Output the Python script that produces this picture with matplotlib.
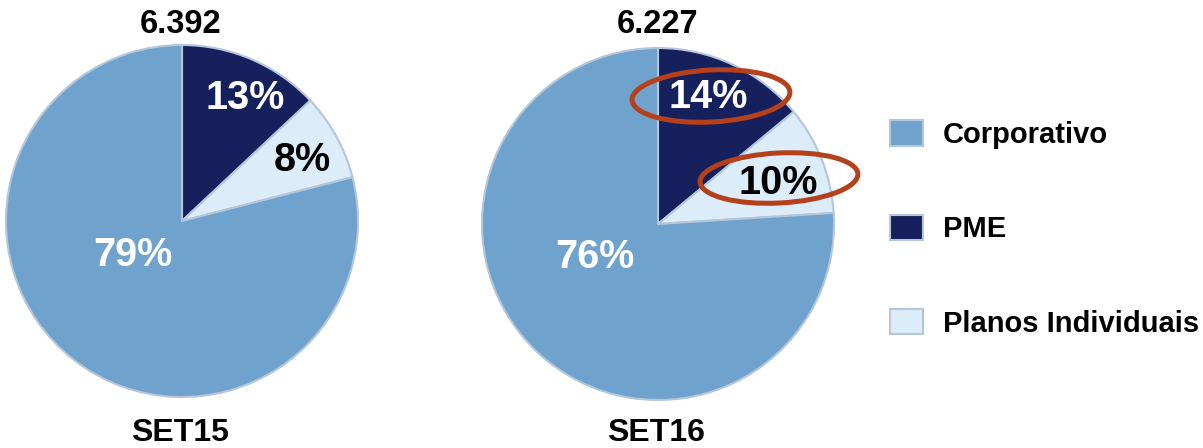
import matplotlib
matplotlib.use("Agg")
import matplotlib.pyplot as plt
from matplotlib.patches import Ellipse

plt.rcParams['font.family'] = ['Liberation Sans', 'DejaVu Sans']

categories = ['Corporativo', 'PME', 'Planos Individuais']
periods = ['SET15', 'SET16']
totals = ['6.392', '6.227']
shares_set15 = [79, 13, 8]
shares_set16 = [76, 14, 10]

colors = {'Corporativo': '#6fa2cd', 'PME': '#15205c', 'Planos Individuais': '#dcedf9'}
label_colors = {'Corporativo': 'white', 'PME': 'white', 'Planos Individuais': 'black'}

W, H = 1203, 448
fig = plt.figure(figsize=(W / 100, H / 100), dpi=100)
ax = fig.add_axes([0, 0, 1, 1])
ax.set_xlim(0, W)
ax.set_ylim(0, H)
ax.set_aspect('equal')
ax.axis('off')

# pie drawn clockwise from 12 o'clock: PME, Planos, Corporativo
draw_order = ['PME', 'Planos Individuais', 'Corporativo']
centers = [(182, H - 221), (658, H - 224)]
radius = 176
label_pos = [
    {'PME': (245, 98), 'Planos Individuais': (302, 160), 'Corporativo': (133, 255)},
    {'PME': (708, 97), 'Planos Individuais': (778, 183), 'Corporativo': (595, 257)},
]

handles = {}
for i, shares in enumerate([shares_set15, shares_set16]):
    vals = [shares[categories.index(c)] for c in draw_order]
    wedges, _ = ax.pie(vals, center=centers[i], radius=radius, startangle=90,
                       counterclock=False, colors=[colors[c] for c in draw_order],
                       wedgeprops=dict(edgecolor='#b4c6da', linewidth=1.5))
    ax.set_xlim(0, W)
    ax.set_ylim(0, H)
    for c, w in zip(draw_order, wedges):
        handles.setdefault(c, w)
        x, y = label_pos[i][c]
        ax.text(x, H - y, f"{shares[categories.index(c)]}%", ha='center', va='center',
                fontsize=28.5, fontweight='bold', color=label_colors[c])
    cx = centers[i][0]
    ax.text(cx - 1, H - 24, totals[i], ha='center', va='center', fontsize=23.5, fontweight='bold')
    ax.text(cx - 2, H - 433, periods[i], ha='center', va='center', fontsize=23, fontweight='bold')

# highlight circles on SET16
for (ex, ey, ew, eh) in [(711, 96, 158, 52), (779, 178, 158, 50)]:
    ax.add_patch(Ellipse((ex, H - ey), ew, eh, angle=3, fill=False,
                         edgecolor='#b5401c', linewidth=3.6))

fig.legend([handles[c] for c in categories], categories, loc='center left',
           bbox_to_anchor=(890 / W, 1 - 229 / H), frameon=False,
           prop=dict(size=21, weight='bold'), labelspacing=2.25, handlelength=1.13,
           handleheight=0.95, handletextpad=0.68, borderpad=0, borderaxespad=0)

fig.savefig('out.png', dpi=100)
